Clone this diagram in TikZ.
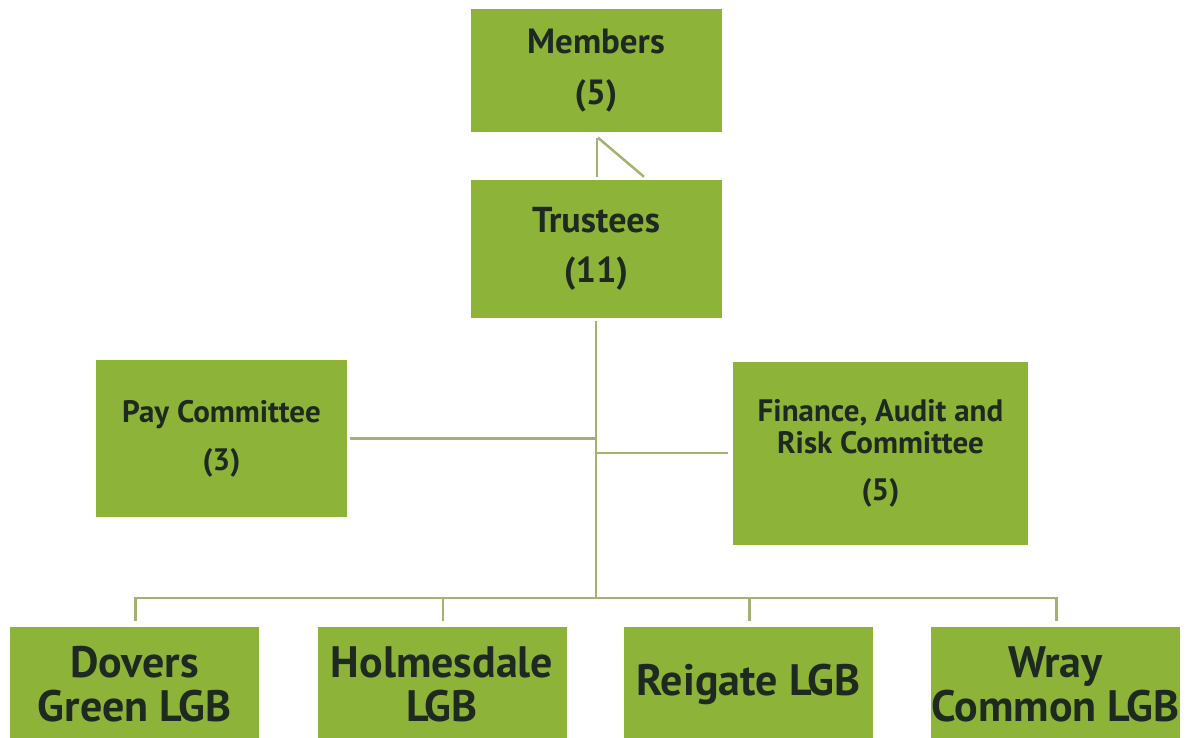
\documentclass[tikz,border=0pt]{standalone}
\usepackage{fontspec}
\setmainfont{PT Sans}
\usetikzlibrary{calc}
\definecolor{boxgreen}{RGB}{141,180,56}
\definecolor{boxtext}{RGB}{30,42,32}
\definecolor{linegreen}{RGB}{163,178,112}
\tikzstyle{box} = [rectangle, fill=boxgreen, text=boxtext, align=center, inner sep=0pt]
\tikzstyle{lgb} = [box, minimum width=249pt, minimum height=115pt, font=\fontsize{44}{44}\selectfont\bfseries]
\tikzstyle{wire} = [draw=linegreen, line width=2.5pt]

\begin{document}
\begin{tikzpicture}[x=1pt, y=-1pt]
    \useasboundingbox (0,0) rectangle (1188,738);
    \clip (0,0) rectangle (1188,738);
    \node[box, minimum width=251pt, minimum height=123pt, font=\fontsize{35}{51}\selectfont\bfseries] (mem) at (596,71) {Members\\(5)};
    \node[box, minimum width=251pt, minimum height=138pt, font=\fontsize{36}{50}\selectfont\bfseries] (tru) at (596,249) {Trustees\\(11)};
    \node[box, minimum width=251pt, minimum height=157pt, font=\fontsize{31}{48}\selectfont\bfseries] (pay) at (221.5,438.5) {Pay Committee\\(3)};
    \node[box, minimum width=295pt, minimum height=183pt, font=\fontsize{31}{32}\selectfont\bfseries] (fin) at (880.5,453) {Finance, Audit and\\Risk Committee\\[15pt](5)};
    \node[lgb] (dov) at (134.5,684.5) {Dovers\\Green LGB};
    \node[lgb] (hol) at (442,684.5) {Holmesdale\\LGB};
    \node[lgb] (rei) at (748.5,684.5) {Reigate LGB};
    \node[lgb] (wra) at (1055.5,684.5) {Wray\\Common LGB};
    \coordinate (bus) at (596,598);
    % members to trustees
    \draw[wire] ([xshift=1pt,yshift=-5pt]mem.south) -- ([xshift=1pt,yshift=3pt]tru.north);
    \draw[wire] ([xshift=2pt,yshift=-5pt]mem.south) -- ([xshift=48pt,yshift=3pt]tru.north);
    % trunk and committees
    \draw[wire] ([yshift=-3pt]tru.south) -- (bus);
    \draw[wire] ([xshift=3pt]pay.east) -- (tru.south |- pay.east);
    \draw[wire] (tru.south |- fin.west) -- ([xshift=-5pt]fin.west);
    % local governing boards
    \foreach \b in {dov,hol,rei,wra}
      \draw[wire] (bus) -| ([xshift=1pt,yshift=6pt]\b.north);
\end{tikzpicture}
\end{document}
